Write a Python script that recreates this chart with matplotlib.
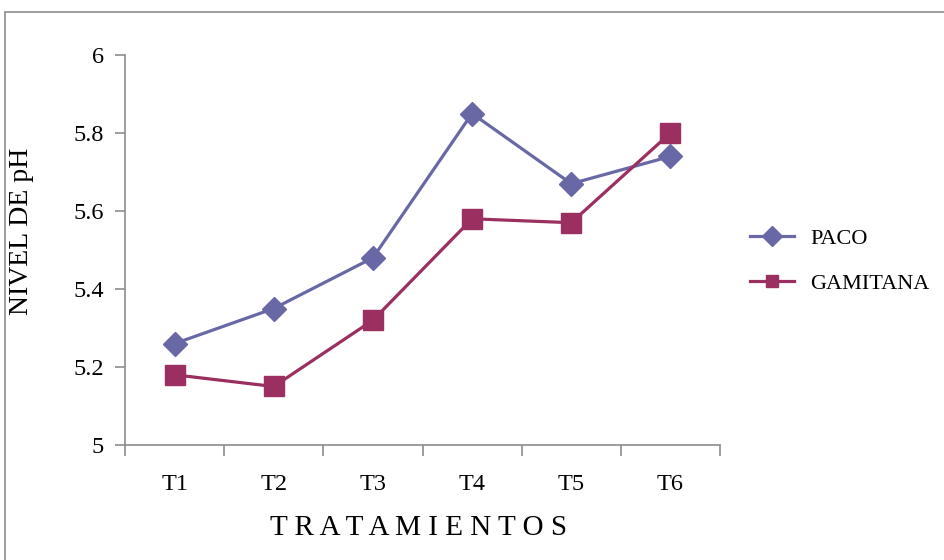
import matplotlib
matplotlib.use("Agg")
import matplotlib.pyplot as plt
from matplotlib.patches import Rectangle
from matplotlib.lines import Line2D

categories = ["T1", "T2", "T3", "T4", "T5", "T6"]
paco = [5.26, 5.35, 5.48, 5.85, 5.67, 5.74]
gamitana = [5.18, 5.15, 5.32, 5.58, 5.57, 5.80]
yticks = [5, 5.2, 5.4, 5.6, 5.8, 6]

PACO_COLOR = "#6868A6"
GAMI_COLOR = "#9A2F60"
GRID_GRAY = "#8c8c8c"

plt.rcParams["font.family"] = ["Liberation Serif", "DejaVu Serif"]

W, H = 944, 560
fig = plt.figure(figsize=(W / 100, H / 100), dpi=100)
# outer chart-area frame
fig.patches.append(Rectangle((5 / W, -0.1), 1.2, 1.1 - 12 / H,
                             transform=fig.transFigure, fill=False,
                             edgecolor=GRID_GRAY, linewidth=1.2))

ax = fig.add_axes([125 / W, 1 - 445 / H, (720 - 125) / W, (445 - 55) / H])

x = list(range(len(categories)))
ax.plot(x, paco, color=PACO_COLOR, linewidth=2.3, marker="D", markersize=12.5,
        label="PACO")
ax.plot(x, gamitana, color=GAMI_COLOR, linewidth=2.3, marker="s", markersize=14,
        label="GAMITANA")

ax.set_xlim(-0.5, len(categories) - 0.5)
ax.set_ylim(5, 6)
ax.set_yticks(yticks)
ax.set_yticklabels([f"{v:g}" for v in yticks], fontsize=17.5)
ax.set_xticks(x)
ax.set_xticklabels(categories, fontsize=17.5)
ax.tick_params(axis="x", length=0, pad=21)
ax.set_xticks([i - 0.5 for i in range(len(categories) + 1)], minor=True)
ax.tick_params(axis="x", which="minor", length=8, color=GRID_GRAY, width=1.2)
ax.tick_params(axis="y", length=7, color=GRID_GRAY, width=1.2, pad=8)

for side in ("top", "right"):
    ax.spines[side].set_visible(False)
for side in ("left", "bottom"):
    ax.spines[side].set_color(GRID_GRAY)
    ax.spines[side].set_linewidth(1.2)

fig.text(22 / W, 1 - 231 / H, "NIVEL DE pH", fontsize=20, rotation=90,
         ha="center", va="center")
fig.text(418 / W, 1 - 528 / H, "T R A T A M I E N T O S", fontsize=21,
         ha="center", va="center")

handles = [
    Line2D([], [], color=PACO_COLOR, linewidth=2.3, marker="D", markersize=10),
    Line2D([], [], color=GAMI_COLOR, linewidth=2.3, marker="s", markersize=9),
]
fig.legend(handles, ["PACO", "GAMITANA"], loc="upper left",
           bbox_to_anchor=(750 / W, 1 - 228 / H), frameon=False,
           borderpad=0, borderaxespad=0,
           fontsize=16, handlelength=2.0, handletextpad=0.7, labelspacing=1.1)

fig.savefig("out.png", dpi=100)
